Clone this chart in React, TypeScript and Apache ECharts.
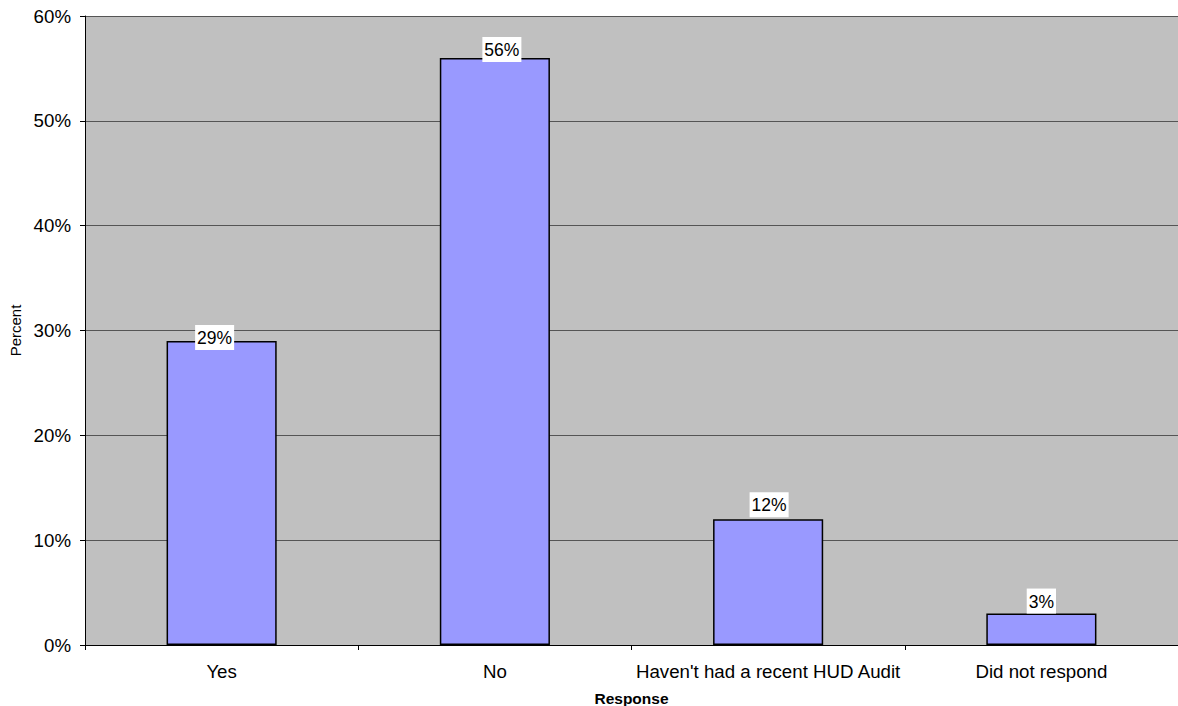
import React, { useEffect, useRef } from "react";
import * as echarts from "echarts";

const categories = ["Yes", "No", "Haven't had a recent HUD Audit", "Did not respond"];
const percents = [29, 56, 12, 3];
const yTicks = [0, 10, 20, 30, 40, 50, 60];

const FONT = "'Liberation Sans', Arial, sans-serif";

// Small per-label nudges (px) so each value box sits where the original layout put it.
const labelNudge: [number, number][] = [
  [-7, 9],
  [7, 4],
  [1, -2],
  [0, 0],
];

export default function App() {
  const ref = useRef<HTMLDivElement>(null);

  useEffect(() => {
    if (!ref.current) return;
    const chart = echarts.init(ref.current, undefined, { renderer: "svg" });
    chart.setOption({
      animation: false,
      backgroundColor: "#ffffff",
      textStyle: { fontFamily: FONT },
      grid: {
        left: 85,
        right: 0,
        top: 16,
        bottom: 61,
        outerBoundsMode: "none",
        containLabel: false,
        show: true,
        backgroundColor: "#C0C0C0",
        borderWidth: 0,
      },
      xAxis: {
        type: "category",
        data: categories,
        name: "Response",
        nameLocation: "middle",
        nameGap: 45,
        nameTextStyle: { fontFamily: FONT, fontSize: 15.5, fontWeight: "bold", color: "#000" },
        axisLine: { show: true, lineStyle: { color: "#000", width: 1 } },
        axisTick: { show: true, length: 5, alignWithLabel: false, lineStyle: { color: "#000" } },
        axisLabel: { fontFamily: FONT, fontSize: 18.7, color: "#000", margin: 17, interval: 0 },
        splitLine: { show: false },
      },
      yAxis: {
        type: "value",
        min: yTicks[0],
        max: yTicks[yTicks.length - 1],
        interval: 10,
        name: "Percent",
        nameLocation: "middle",
        nameRotate: 90,
        nameGap: 60,
        nameTextStyle: { fontFamily: FONT, fontSize: 15, color: "#000" },
        axisLine: { show: true, lineStyle: { color: "#000", width: 1 } },
        axisTick: { show: true, length: 5, inside: false, lineStyle: { color: "#000" } },
        axisLabel: {
          fontFamily: FONT,
          fontSize: 18.7,
          color: "#000",
          margin: 14,
          formatter: "{value}%",
        },
        splitLine: { show: true, lineStyle: { color: "#555", width: 1 } },
      },
      series: [
        {
          type: "bar",
          data: percents.map((v, i) => ({ value: v, label: { offset: labelNudge[i] } })),
          barWidth: "40.3%",
          itemStyle: { color: "#9999FF", borderColor: "#000", borderWidth: 1.5 },
          label: {
            show: true,
            position: "top",
            distance: 0,
            formatter: "{c}%",
            fontFamily: FONT,
            fontSize: 17.5,
            color: "#000",
            backgroundColor: "#ffffff",
            padding: [4, 2, 3, 2],
          },
        },
      ],
    });
    return () => chart.dispose();
  }, []);

  return (
    <div
      ref={ref}
      style={{ position: "fixed", left: 0, top: 0, width: 1178, height: 706 }}
    />
  );
}
